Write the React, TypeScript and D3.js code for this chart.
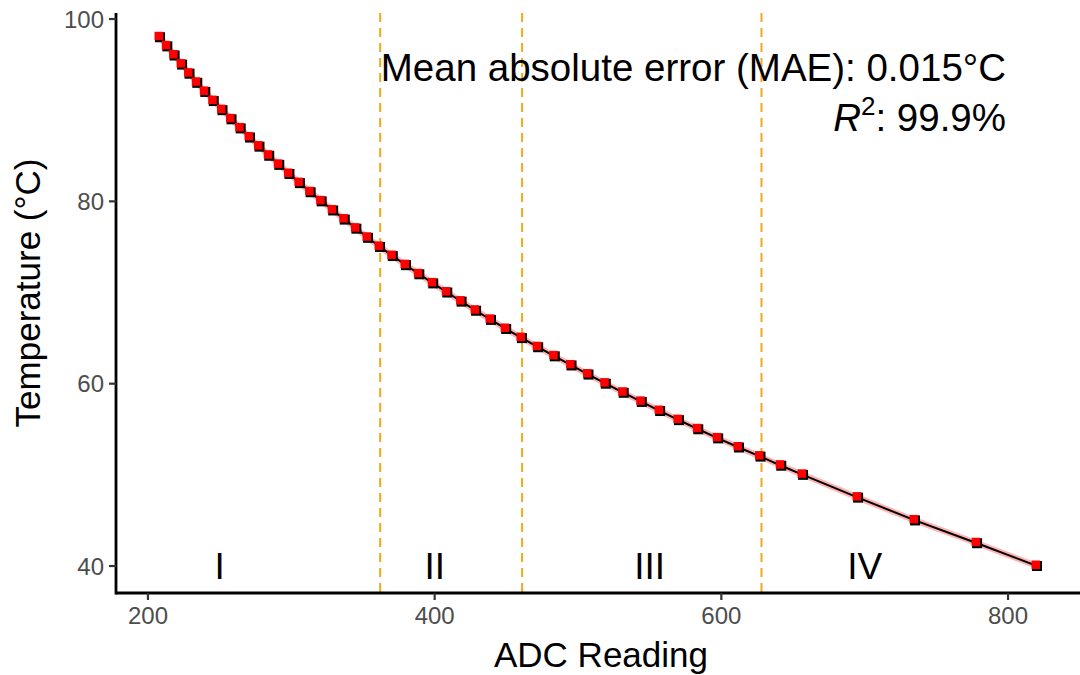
import React from "react";
import * as d3 from "d3";

const temps = [98, 97, 96, 95, 94, 93, 92, 91, 90, 89, 88, 87, 86, 85, 84, 83, 82, 81, 80, 79, 78, 77, 76, 75, 74, 73, 72, 71, 70, 69, 68, 67, 66, 65, 64, 63, 62, 61, 60, 59, 58, 57, 56, 55, 54, 53, 52, 51, 50, 47.5, 45, 42.5, 40];
const adc = [208.4, 213.5, 218.6, 223.8, 229.0, 234.4, 240.0, 245.9, 252.0, 258.3, 264.7, 271.2, 277.8, 284.6, 291.6, 298.7, 306.0, 313.5, 321.2, 329.2, 337.3, 345.4, 353.5, 361.9, 370.8, 380.0, 389.3, 399.0, 408.8, 418.8, 428.9, 439.3, 449.9, 460.9, 472.2, 483.8, 495.5, 507.3, 519.4, 531.9, 544.5, 557.3, 570.4, 583.9, 597.8, 612.3, 627.3, 641.8, 657.0, 695.4, 735.1, 778.4, 820.2];
const boundaries = [362, 461, 628];
const regionLabels = ["I", "II", "III", "IV"];
const regionX = [250, 400, 550, 700];
const xTicks = [200, 400, 600, 800];
const yTicks = [40, 60, 80, 100];

const W = 1080, H = 675;
const panel = { left: 116, right: 1080, top: 13, bottom: 593 };
const FONT = "'Liberation Sans', Arial, sans-serif";

export default function App() {
  const x = d3.scaleLinear().domain([177.7, 850.2]).range([panel.left, panel.right]);
  const y = d3.scaleLinear().domain([37.04, 100.66]).range([panel.bottom, panel.top]);
  const pts = temps.map((t, i) => ({ t, a: adc[i] }));
  const line = d3.line<{ t: number; a: number }>().x(d => x(d.a)).y(d => y(d.t));
  const path = line(pts) || "";

  return (
    <svg width={W} height={H} style={{ position: "absolute", left: 0, top: 0, background: "#fff" }} fontFamily={FONT}>
      <rect x={0} y={0} width={W} height={H} fill="#fff" />
      {boundaries.map((b, i) => (
        <line key={i} x1={x(b)} x2={x(b)} y1={panel.top} y2={panel.bottom} stroke="#F2A81D" strokeWidth={2} strokeDasharray="9,6" />
      ))}
      {regionLabels.map((r, i) => (
        <text key={r} x={x(regionX[i])} y={y(40)} dy="0.36em" textAnchor="middle" fontSize={37} fill="#000">{r}</text>
      ))}
      <path d={path} fill="none" stroke="red" strokeOpacity={0.3} strokeWidth={6} />
      <path d={path} fill="none" stroke="#000" strokeWidth={2} />
      {pts.map((p, i) => (
        <g key={i}>
          <rect x={x(p.a) - 5} y={y(p.t) - 5} width={10} height={10} fill="#000" />
          <rect x={x(p.a) - 5.5} y={y(p.t) - 5.5} width={8.5} height={8.5} fill="#f00" />
        </g>
      ))}
      <line x1={panel.left} x2={panel.right} y1={panel.bottom} y2={panel.bottom} stroke="#000" strokeWidth={2.8} />
      <line x1={panel.left} x2={panel.left} y1={panel.top} y2={panel.bottom + 1.4} stroke="#000" strokeWidth={2.8} />
      {xTicks.map(t => (
        <g key={t}>
          <line x1={x(t)} x2={x(t)} y1={panel.bottom} y2={panel.bottom + 7} stroke="#333" strokeWidth={2.2} />
          <text x={x(t)} y={panel.bottom + 31} textAnchor="middle" fontSize={24} fill="#4d4d4d">{t}</text>
        </g>
      ))}
      {yTicks.map(t => (
        <g key={t}>
          <line x1={panel.left - 7} x2={panel.left} y1={y(t)} y2={y(t)} stroke="#333" strokeWidth={2.2} />
          <text x={panel.left - 12} y={y(t)} dy="0.36em" textAnchor="end" fontSize={24} fill="#4d4d4d">{t}</text>
        </g>
      ))}
      <text x={(panel.left + panel.right) / 2 + 3} y={667} textAnchor="middle" fontSize={35} fill="#000">ADC Reading</text>
      <text transform={`translate(40, ${(panel.top + panel.bottom) / 2 - 10}) rotate(-90)`} textAnchor="middle" fontSize={35} fill="#000">Temperature (°C)</text>
      <text x={1006} y={81} textAnchor="end" fontSize={38.5} fill="#000">Mean absolute error (MAE): 0.015°C</text>
      <text x={1006} y={131} textAnchor="end" fontSize={38.5} fill="#000">
        <tspan fontStyle="italic">R</tspan>
        <tspan fontSize={26} dy={-16}>2</tspan>
        <tspan dy={16}>: 99.9%</tspan>
      </text>
    </svg>
  );
}
